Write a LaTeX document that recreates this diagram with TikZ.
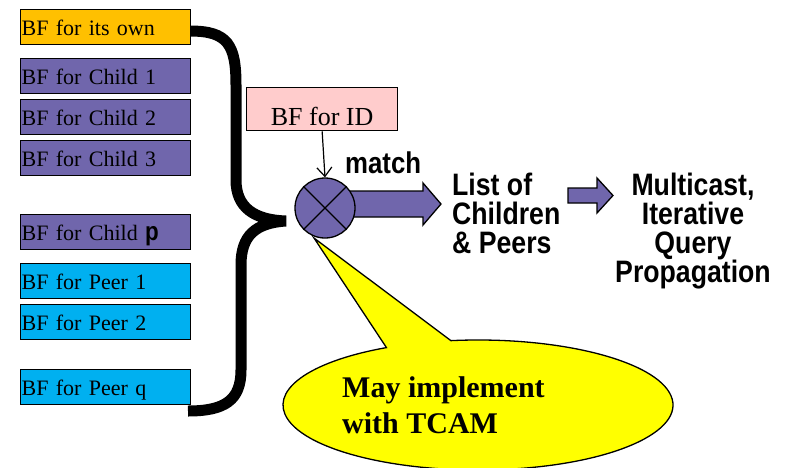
\documentclass[tikz,border=0pt]{standalone}
\usepackage{fontspec}
\setmainfont{Liberation Serif}
\newfontfamily\hfont[FakeStretch=0.86]{Liberation Sans}
\usetikzlibrary{arrows.meta,calc}
\definecolor{bforange}{RGB}{255,192,0}
\definecolor{bfpurple}{RGB}{112,102,172}
\definecolor{bfcyan}{RGB}{0,176,240}
\definecolor{bfpink}{RGB}{255,204,204}
\definecolor{bfyellow}{RGB}{255,255,0}
\begin{document}
\begin{tikzpicture}[x=1pt,y=-1pt,
  bfbox/.style={draw=black,line width=1.3pt,anchor=north west,
    text width=168pt,align=left,inner xsep=1pt,inner ysep=0pt,
    minimum height=35pt,text height=16pt,text depth=0pt,
    font=\fontsize{22}{24}\selectfont},
  headtext/.style={font=\hfont\bfseries\fontsize{31}{29}\selectfont,inner sep=0pt},
  blockarrow/.style={draw=black,line width=1.3pt,fill=bfpurple,line join=miter},
  brace/.style={draw=black,line width=11pt,line cap=butt}]
\useasboundingbox (0,0) rectangle (788,467);
\clip (0,0) rectangle (788,467);

% brace
\draw[brace] (190,31) .. controls (228,31) and (236,45) .. (236,85)
  -- (236,180) .. controls (236,208) and (255,220) .. (286,221)
  .. controls (255,223) and (241,236) .. (241,265)
  -- (241,370) .. controls (241,400) and (225,411) .. (188,411);

% left boxes
\node[bfbox,fill=bforange] (own) at (20,9) {BF for its own};
\node[bfbox,fill=bfpurple] (c1) at (20,58) {BF for Child 1};
\node[bfbox,fill=bfpurple] (c2) at (20,99) {BF for Child 2};
\node[bfbox,fill=bfpurple] (c3) at (20,140) {BF for Child 3};
\node[bfbox,fill=bfpurple] (cp) at (20,214) {BF for Child {\hfont\bfseries\fontsize{26}{26}\selectfont p}};
\node[bfbox,fill=bfcyan] (p1) at (20,263) {BF for Peer 1};
\node[bfbox,fill=bfcyan] (p2) at (20,304) {BF for Peer 2};
\node[bfbox,fill=bfcyan] (pq) at (20,369) {BF for Peer q};

% BF for ID
\node[draw=black,line width=1.3pt,fill=bfpink,anchor=north west,
  minimum width=151pt,minimum height=43pt,inner sep=0pt,
  text height=33pt,text depth=0pt,font=\fontsize{26}{28}\selectfont]
  (bfid) at (246,87) {BF for ID};

% big block arrow (behind the matcher)
\draw[blockarrow] (340,191) -- (423,191) -- (423,183) -- (441,204)
  -- (423,225) -- (423,217) -- (340,217) -- cycle;

% matcher
\node[circle,draw=black,line width=1.3pt,fill=bfpurple,minimum size=60pt,inner sep=0pt]
  (mx) at (325,208) {};
\draw[line width=1.2pt] (mx.north west) -- (mx.south east);
\draw[line width=1.2pt] (mx.north east) -- (mx.south west);

\draw[line width=1.2pt,-{Straight Barb[length=9pt,width=15pt]}] (bfid.south) -- (mx.north);

\node[font=\hfont\bfseries\fontsize{30}{30}\selectfont,anchor=base west,inner sep=0pt]
  (match) at (345,173) {match};

% list
\node[headtext,align=left,anchor=north west] (lst) at (452,173)
  {List of\\Children\\\& Peers};

% small block arrow
\draw[blockarrow] (568,188) -- (597,188) -- (597,178) -- (613,195.5)
  -- (597,213) -- (597,203) -- (568,203) -- cycle;

\node[headtext,align=center,anchor=north] (mc) at (693,173)
  {Multicast,\\Iterative\\Query\\Propagation};

% balloon
\coordinate (bc) at (478,405);
\coordinate (tip) at (314,238);
\draw[line width=1.3pt,fill=bfyellow,line join=miter]
  (tip) -- ($(bc)+(262:195 and 65)$)
  arc[start angle=262,end angle=602,x radius=195,y radius=65] -- cycle;
\node[font=\bfseries\fontsize{30}{36}\selectfont,align=left,anchor=base west,inner sep=0pt]
  (tcam) at (342,433) {May implement\\with TCAM};
\end{tikzpicture}
\end{document}
